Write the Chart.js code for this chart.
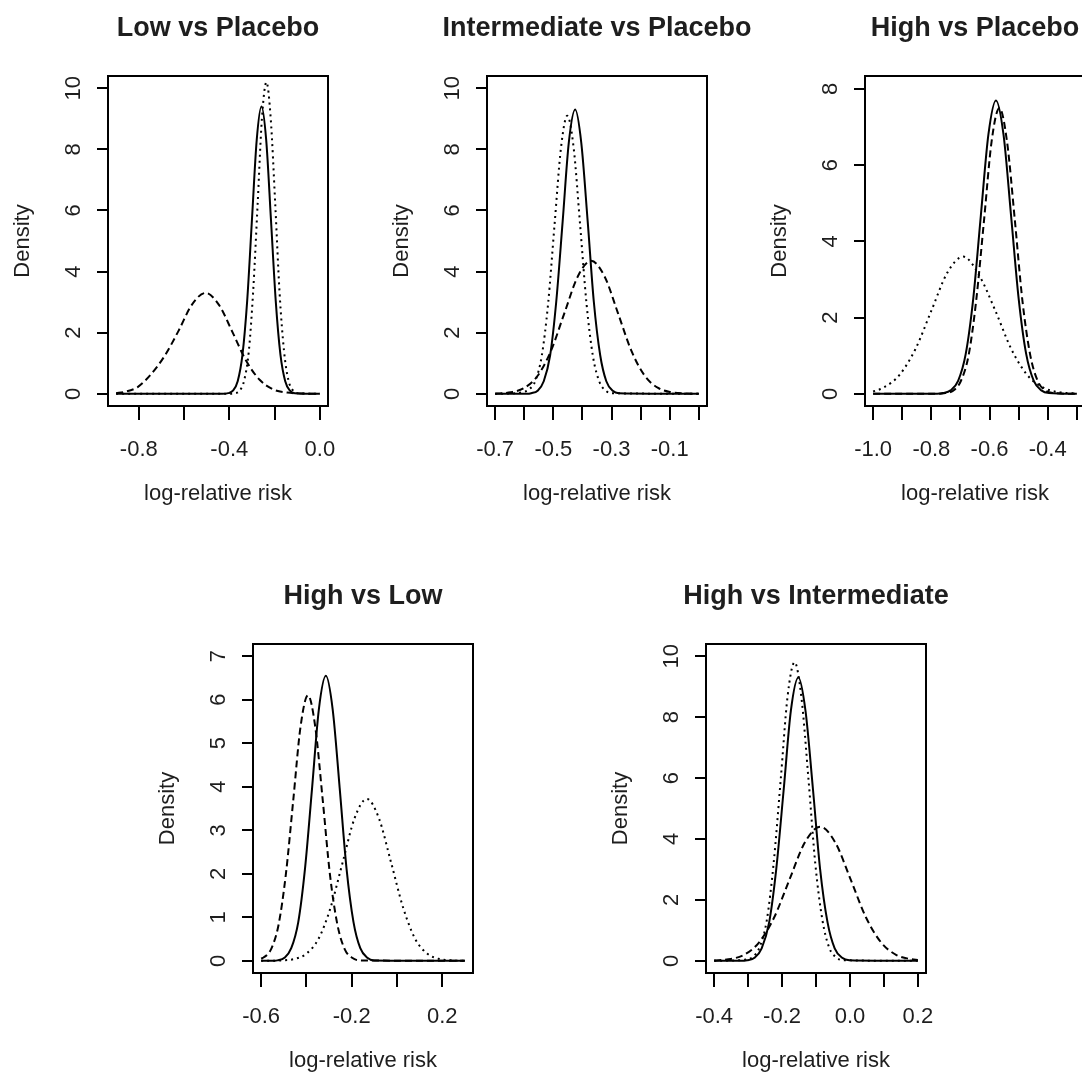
<!DOCTYPE html>
<html>
  <head>
    <title>Posterior densities of log-relative risk</title>
    <script src="https://cdn.jsdelivr.net/npm/chart.js@4.4.1/dist/chart.umd.min.js"></script>
    <style>
      html, body {
        margin: 0;
        padding: 0;
        background: #fff;
        width: 1082px;
        height: 1079px;
        overflow: hidden;
      }
      canvas {
        position: absolute;
      }
    </style>
  </head>

  <body>
    <canvas id="p1" width="436" height="520" style="left: 0px; top: 0px"></canvas>
    <canvas id="p2" width="436" height="520" style="left: 379px; top: 0px"></canvas>
    <canvas id="p3" width="436" height="520" style="left: 757px; top: 0px"></canvas>
    <canvas id="p4" width="436" height="519" style="left: 145px; top: 568px"></canvas>
    <canvas id="p5" width="436" height="519" style="left: 598px; top: 568px"></canvas>
    <script>
      // Low vs Placebo
      const lowPlaceboSolidX = [-0.9, -0.43, -0.405, -0.384, -0.363, -0.342, -0.321, -0.3, -0.279, -0.258, -0.237, -0.216, -0.195, -0.174, -0.153, -0.132, -0.111, 0.0];
      const lowPlaceboSolidY = [0, 0, 0.02, 0.1, 0.41, 1.27, 3.05, 5.7, 8.3, 9.4, 8.3, 5.7, 3.05, 1.27, 0.41, 0.1, 0.02, 0];
      const lowPlaceboDashX = [-0.9, -0.865, -0.805, -0.745, -0.685, -0.625, -0.565, -0.505, -0.445, -0.385, -0.325, -0.265, -0.205, -0.145, -0.085, 0.0];
      const lowPlaceboDashY = [0.02, 0.06, 0.22, 0.65, 1.25, 2.05, 2.92, 3.3, 2.9, 2.0, 1.07, 0.45, 0.14, 0.04, 0.01, 0];
      const lowPlaceboDotX = [-0.9, -0.4, -0.373, -0.353, -0.334, -0.314, -0.295, -0.275, -0.256, -0.236, -0.217, -0.197, -0.178, -0.158, -0.139, -0.119, -0.1, 0.0];
      const lowPlaceboDotY = [0, 0, 0.02, 0.11, 0.45, 1.38, 3.31, 6.19, 9.0, 10.2, 9.0, 6.19, 3.31, 1.38, 0.45, 0.11, 0.02, 0];

      // Intermediate vs Placebo
      const intPlaceboSolidX = [-0.7, -0.59, -0.576, -0.554, -0.533, -0.511, -0.49, -0.468, -0.447, -0.425, -0.404, -0.382, -0.361, -0.339, -0.318, -0.296, -0.275, 0.0];
      const intPlaceboSolidY = [0, 0, 0.02, 0.1, 0.41, 1.26, 3.02, 5.64, 8.21, 9.3, 8.21, 5.64, 3.02, 1.26, 0.41, 0.1, 0.02, 0];
      const intPlaceboDashX = [-0.7, -0.692, -0.646, -0.6, -0.554, -0.508, -0.462, -0.416, -0.37, -0.324, -0.278, -0.232, -0.186, -0.14, -0.094, -0.048, 0.0];
      const intPlaceboDashY = [0, 0.01, 0.05, 0.19, 0.59, 1.41, 2.64, 3.84, 4.35, 3.84, 2.64, 1.41, 0.59, 0.19, 0.05, 0.01, 0];
      const intPlaceboDotX = [-0.7, -0.64, -0.606, -0.584, -0.562, -0.54, -0.518, -0.496, -0.474, -0.452, -0.43, -0.408, -0.386, -0.364, -0.342, -0.32, -0.298, 0.0];
      const intPlaceboDotY = [0, 0.01, 0.05, 0.14, 0.42, 1.23, 2.95, 5.52, 8.03, 9.1, 8.03, 5.52, 2.95, 1.23, 0.4, 0.1, 0.02, 0];

      // High vs Placebo
      const highPlaceboSolidX = [-1.0, -0.78, -0.76, -0.734, -0.708, -0.682, -0.656, -0.63, -0.604, -0.578, -0.552, -0.526, -0.5, -0.474, -0.448, -0.422, -0.396, -0.3];
      const highPlaceboSolidY = [0, 0, 0.02, 0.09, 0.34, 1.04, 2.5, 4.67, 6.8, 7.7, 6.8, 4.67, 2.5, 1.04, 0.34, 0.09, 0.02, 0];
      const highPlaceboDashX = [-1.0, -0.77, -0.752, -0.725, -0.699, -0.672, -0.646, -0.619, -0.593, -0.566, -0.54, -0.513, -0.487, -0.46, -0.434, -0.407, -0.381, -0.3];
      const highPlaceboDashY = [0, 0, 0.02, 0.08, 0.33, 1.01, 2.44, 4.55, 6.62, 7.5, 6.62, 4.55, 2.44, 1.01, 0.33, 0.08, 0.02, 0];
      const highPlaceboDotX = [-1.0, -0.965, -0.91, -0.855, -0.8, -0.745, -0.69, -0.635, -0.58, -0.525, -0.47, -0.415, -0.36, -0.3];
      const highPlaceboDotY = [0.06, 0.16, 0.49, 1.17, 2.18, 3.18, 3.6, 3.1, 2.18, 1.17, 0.49, 0.16, 0.04, 0.01];

      // High vs Low
      const highLowSolidX = [-0.6, -0.54, -0.528, -0.497, -0.467, -0.436, -0.406, -0.375, -0.345, -0.314, -0.284, -0.253, -0.223, -0.192, -0.162, -0.131, -0.101, 0.3];
      const highLowSolidY = [0, 0, 0.01, 0.07, 0.29, 0.89, 2.13, 3.97, 5.78, 6.55, 5.78, 3.97, 2.13, 0.89, 0.29, 0.07, 0.01, 0];
      const highLowDashX = [-0.6, -0.588, -0.556, -0.523, -0.491, -0.458, -0.426, -0.393, -0.361, -0.328, -0.296, -0.263, -0.231, -0.198, -0.166, 0.3];
      const highLowDashY = [0.05, 0.08, 0.27, 0.83, 1.98, 3.7, 5.38, 6.1, 5.38, 3.7, 1.98, 0.83, 0.27, 0.07, 0.01, 0];
      const highLowDotX = [-0.6, -0.508, -0.454, -0.401, -0.347, -0.294, -0.24, -0.187, -0.133, -0.08, -0.026, 0.028, 0.081, 0.135, 0.188, 0.242, 0.3];
      const highLowDotY = [0, 0.01, 0.04, 0.16, 0.5, 1.21, 2.26, 3.28, 3.72, 3.28, 2.26, 1.21, 0.5, 0.16, 0.04, 0.01, 0];

      // High vs Intermediate
      const highIntSolidX = [-0.4, -0.32, -0.303, -0.281, -0.26, -0.238, -0.217, -0.195, -0.174, -0.152, -0.131, -0.109, -0.088, -0.066, -0.045, -0.023, -0.002, 0.2];
      const highIntSolidY = [0, 0, 0.02, 0.1, 0.41, 1.26, 3.02, 5.64, 8.21, 9.3, 8.21, 5.64, 3.02, 1.26, 0.41, 0.1, 0.02, 0];
      const highIntDashX = [-0.4, -0.358, -0.313, -0.268, -0.223, -0.178, -0.133, -0.088, -0.043, 0.002, 0.047, 0.092, 0.137, 0.182, 0.2];
      const highIntDashY = [0.01, 0.05, 0.19, 0.6, 1.43, 2.67, 3.88, 4.4, 3.88, 2.67, 1.43, 0.6, 0.19, 0.05, 0.03];
      const highIntDotX = [-0.4, -0.35, -0.307, -0.286, -0.266, -0.245, -0.225, -0.204, -0.184, -0.163, -0.143, -0.122, -0.102, -0.081, -0.061, -0.04, -0.02, 0.2];
      const highIntDotY = [0, 0.01, 0.04, 0.13, 0.45, 1.33, 3.18, 5.94, 8.65, 9.8, 8.65, 5.94, 3.18, 1.33, 0.43, 0.11, 0.02, 0];

      // tick values and labels (R leaves out labels that would crowd)
      const lowPlaceboXTicks = [-0.8, -0.6, -0.4, -0.2, 0.0];
      const lowPlaceboXLabels = ['-0.8', '', '-0.4', '', '0.0'];
      const intPlaceboXTicks = [-0.7, -0.6, -0.5, -0.4, -0.3, -0.2, -0.1, 0.0];
      const intPlaceboXLabels = ['-0.7', '', '-0.5', '', '-0.3', '', '-0.1', ''];
      const highPlaceboXTicks = [-1.0, -0.9, -0.8, -0.7, -0.6, -0.5, -0.4, -0.3];
      const highPlaceboXLabels = ['-1.0', '', '-0.8', '', '-0.6', '', '-0.4', ''];
      const highLowXTicks = [-0.6, -0.4, -0.2, 0.0, 0.2];
      const highLowXLabels = ['-0.6', '', '-0.2', '', '0.2'];
      const highIntXTicks = [-0.4, -0.3, -0.2, -0.1, 0.0, 0.1, 0.2];
      const highIntXLabels = ['-0.4', '', '-0.2', '', '0.0', '', '0.2'];
      const densityTicks10 = [0, 2, 4, 6, 8, 10];
      const densityTicks8 = [0, 2, 4, 6, 8];
      const densityTicks7 = [0, 1, 2, 3, 4, 5, 6, 7];

      const FONT = '"Liberation Sans", Arial, Helvetica, sans-serif';
      const INK = '#1e1e1e';
      const TXT = 22;
      Chart.defaults.font.family = FONT;
      Chart.defaults.color = INK;

      const pts = (xs, ys) => xs.map((x, i) => ({ x: x, y: ys[i] }));

      const curve = (xs, ys, dash) => ({
        data: pts(xs, ys),
        borderColor: '#000',
        borderWidth: 2,
        borderDash: dash,
        pointRadius: 0,
        fill: false,
        cubicInterpolationMode: 'monotone',
      });

      // rotated density labels and the frame around the plot region, like base R
      const rFrame = {
        id: 'rFrame',
        afterDraw(chart) {
          const { ctx, chartArea, scales } = chart;
          const y = scales.y;
          ctx.save();
          ctx.font = TXT + 'px ' + FONT;
          ctx.fillStyle = INK;
          ctx.textAlign = 'center';
          ctx.textBaseline = 'middle';
          y.ticks.forEach((t) => {
            ctx.save();
            ctx.translate(chartArea.left - 34, y.getPixelForValue(t.value));
            ctx.rotate(-Math.PI / 2);
            ctx.fillText(String(t.value), 0, 0);
            ctx.restore();
          });
          ctx.strokeStyle = '#000';
          ctx.lineWidth = 2;
          ctx.strokeRect(chartArea.left, chartArea.top, chartArea.width, chartArea.height);
          ctx.restore();
        },
      };

      function panel(id, title, curves, xr, xTicks, xLabels, yr, yTicks) {
        const ctx = document.getElementById(id).getContext('2d');
        return new Chart(ctx, {
          type: 'line',
          data: {
            datasets: [
              curve(curves[0], curves[1], []),
              curve(curves[2], curves[3], [7, 4]),
              curve(curves[4], curves[5], [2, 4]),
            ],
          },
          plugins: [rFrame],
          options: {
            responsive: false,
            animation: false,
            events: [],
            layout: {
              autoPadding: false,
              padding: 0,
            },
            plugins: {
              legend: { display: false },
              tooltip: { enabled: false },
              title: {
                display: true,
                text: title,
                color: INK,
                font: { size: 27, weight: 'bold', family: FONT },
                padding: { top: 12.3, bottom: 31.3 },
              },
            },
            scales: {
              x: {
                type: 'linear',
                min: xr[0],
                max: xr[1],
                afterBuildTicks: (s) => {
                  s.ticks = xTicks.map((v) => ({ value: v }));
                },
                afterFit: (s) => {
                  s.height = 114;
                  s.paddingLeft = 0;
                  s.paddingRight = 0;
                },
                border: { display: false },
                grid: {
                  drawOnChartArea: false,
                  drawTicks: true,
                  tickLength: 14,
                  color: '#000',
                  lineWidth: 2,
                },
                ticks: {
                  autoSkip: false,
                  maxRotation: 0,
                  padding: 17,
                  font: { size: TXT },
                  callback: (v, i) => xLabels[i],
                },
                title: {
                  display: true,
                  text: 'log-relative risk',
                  font: { size: TXT },
                  padding: { top: 0, bottom: 12.8 },
                },
              },
              y: {
                type: 'linear',
                min: yr[0],
                max: yr[1],
                afterBuildTicks: (s) => {
                  s.ticks = yTicks.map((v) => ({ value: v }));
                },
                afterFit: (s) => {
                  s.width = 108;
                  s.paddingTop = 0;
                  s.paddingBottom = 0;
                },
                border: { display: false },
                grid: {
                  drawOnChartArea: false,
                  drawTicks: true,
                  tickLength: 11,
                  color: '#000',
                  lineWidth: 2,
                },
                ticks: { display: false },
                title: {
                  display: true,
                  text: 'Density',
                  font: { size: TXT },
                  padding: { top: 10, bottom: 0 },
                },
              },
              // empty right-hand margin so the title centres over the plot region
              spacer: {
                type: 'linear',
                position: 'right',
                min: 0,
                max: 1,
                afterFit: (s) => {
                  s.width = 108;
                },
                border: { display: false },
                grid: { display: false },
                ticks: { display: false },
              },
            },
          },
        });
      }

      window.onload = () => {
        panel('p1', 'Low vs Placebo',
          [lowPlaceboSolidX, lowPlaceboSolidY, lowPlaceboDashX, lowPlaceboDashY, lowPlaceboDotX, lowPlaceboDotY],
          [-0.936, 0.036], lowPlaceboXTicks, lowPlaceboXLabels, [-0.4, 10.4], densityTicks10);
        panel('p2', 'Intermediate vs Placebo',
          [intPlaceboSolidX, intPlaceboSolidY, intPlaceboDashX, intPlaceboDashY, intPlaceboDotX, intPlaceboDotY],
          [-0.728, 0.028], intPlaceboXTicks, intPlaceboXLabels, [-0.4, 10.4], densityTicks10);
        panel('p3', 'High vs Placebo',
          [highPlaceboSolidX, highPlaceboSolidY, highPlaceboDashX, highPlaceboDashY, highPlaceboDotX, highPlaceboDotY],
          [-1.028, -0.272], highPlaceboXTicks, highPlaceboXLabels, [-0.32, 8.34], densityTicks8);
        panel('p4', 'High vs Low',
          [highLowSolidX, highLowSolidY, highLowDashX, highLowDashY, highLowDotX, highLowDotY],
          [-0.636, 0.336], highLowXTicks, highLowXLabels, [-0.28, 7.28], densityTicks7);
        panel('p5', 'High vs Intermediate',
          [highIntSolidX, highIntSolidY, highIntDashX, highIntDashY, highIntDotX, highIntDotY],
          [-0.424, 0.224], highIntXTicks, highIntXLabels, [-0.4, 10.4], densityTicks10);
      };
    </script>
  </body>
</html>
